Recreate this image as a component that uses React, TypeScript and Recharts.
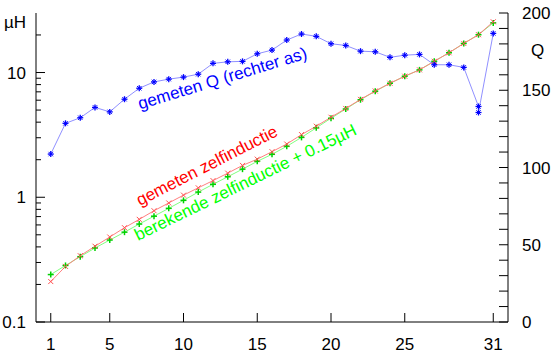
import React from "react";
import { ComposedChart, Line, XAxis, YAxis } from "recharts";

const xValues = [1, 2, 3, 4, 5, 6, 7, 8, 9, 10, 11, 12, 13, 14, 15, 16, 17, 18, 19, 20, 21, 22, 23, 24, 25, 26, 27, 28, 29, 30, 31];

const measuredL = [0.211, 0.279, 0.34, 0.405, 0.48, 0.57, 0.665, 0.78, 0.9, 1.04, 1.19, 1.36, 1.56, 1.8, 2.02, 2.32, 2.67, 3.18, 3.71, 4.38, 5.15, 6.09, 7.11, 8.2, 9.34, 10.5, 12.3, 14.4, 17.1, 20.1, 25.5];

const calculatedL = [0.24, 0.284, 0.334, 0.392, 0.454, 0.525, 0.61, 0.705, 0.815, 0.945, 1.1, 1.27, 1.46, 1.68, 1.94, 2.21, 2.56, 3.02, 3.6, 4.3, 5.1, 6.05, 7.08, 8.2, 9.34, 10.5, 12.3, 14.4, 17.1, 20.1, 25.0];

const qX = [1, 2, 3, 4, 5, 6, 7, 8, 9, 10, 11, 12, 13, 14, 15, 16, 17, 18, 19, 20, 21, 22, 23, 24, 25, 26, 27, 28, 29, 30, 30, 31];
const measuredQ = [108.7, 128.6, 132.2, 138.9, 136, 144.2, 151.3, 155.4, 157.2, 158.5, 160.4, 167.4, 168.4, 168.7, 173.6, 176, 182.5, 186.4, 184.9, 180.1, 179, 175.3, 174.9, 171.3, 172.7, 173.2, 166.5, 166.5, 164.8, 139.5, 135.6, 186.8];

const xTicks = [1, 5, 10, 15, 20, 25, 31];
const leftTicks = [0.1, 0.2, 0.3, 0.4, 0.5, 0.6, 0.7, 0.8, 0.9, 1, 2, 3, 4, 5, 6, 7, 8, 9, 10, 20];
const leftLabels = [0.1, 1, 10];
const rightTicks = [0, 10, 20, 30, 40, 50, 60, 70, 80, 90, 100, 110, 120, 130, 140, 150, 160, 170, 180, 190, 200];
const rightLabels = [0, 50, 100, 150, 200];

const redData = xValues.map((x, i) => ({ x, v: measuredL[i] }));
const greenData = xValues.map((x, i) => ({ x, v: calculatedL[i] }));
const blueData = qX.map((x, i) => ({ x, v: measuredQ[i] }));

const FONT = "'Liberation Sans', Arial, Helvetica, sans-serif";
const FS = 17;

const BottomTick = (props: any) => {
  const { x, y, payload } = props;
  return (
    <g>
      <line x1={x} x2={x} y1={y} y2={y - 9} stroke="#000" strokeWidth={1} />
      <text x={x} y={y + 28} textAnchor="middle" fontFamily={FONT} fontSize={FS} fill="#000">
        {payload.value}
      </text>
    </g>
  );
};

const TopTick = (props: any) => {
  const { x, y } = props;
  return <line x1={x} x2={x} y1={y} y2={y + 9} stroke="#000" strokeWidth={1} />;
};

const LeftTick = (props: any) => {
  const { x, y, payload } = props;
  const major = leftLabels.includes(payload.value);
  return (
    <g>
      <line x1={x} x2={x + (major ? 9 : 5)} y1={y} y2={y} stroke="#000" strokeWidth={1} />
      {major && (
        <text x={x - 10} y={y + 6} textAnchor="end" fontFamily={FONT} fontSize={FS} fill="#000">
          {payload.value}
        </text>
      )}
    </g>
  );
};

const RightTick = (props: any) => {
  const { x, y, payload } = props;
  const major = rightLabels.includes(payload.value);
  return (
    <g>
      <line x1={x} x2={x - 9} y1={y} y2={y} stroke="#000" strokeWidth={1} />
      {major && (
        <text x={x + 14} y={y + 6} textAnchor="start" fontFamily={FONT} fontSize={FS} fill="#000">
          {payload.value}
        </text>
      )}
    </g>
  );
};

const CrossDot = (props: any) => {
  const { cx, cy, index } = props;
  const r = 2.5;
  return (
    <g key={`r${index}`}>
      <line x1={cx - r} y1={cy - r} x2={cx + r} y2={cy + r} stroke="#ff5050" strokeWidth={1} />
      <line x1={cx - r} y1={cy + r} x2={cx + r} y2={cy - r} stroke="#ff5050" strokeWidth={1} />
    </g>
  );
};

const PlusDot = (props: any) => {
  const { cx, cy, index } = props;
  const r = 3;
  return (
    <g key={`g${index}`}>
      <line x1={cx - r} y1={cy} x2={cx + r} y2={cy} stroke="#00d000" strokeWidth={1.5} />
      <line x1={cx} y1={cy - r} x2={cx} y2={cy + r} stroke="#00d000" strokeWidth={1.5} />
    </g>
  );
};

const StarDot = (props: any) => {
  const { cx, cy, index } = props;
  const r = 3;
  const d = 2.2;
  return (
    <g key={`b${index}`}>
      <line x1={cx - r} y1={cy} x2={cx + r} y2={cy} stroke="#0000ff" strokeWidth={1.3} />
      <line x1={cx} y1={cy - r} x2={cx} y2={cy + r} stroke="#0000ff" strokeWidth={1.3} />
      <line x1={cx - d} y1={cy - d} x2={cx + d} y2={cy + d} stroke="#0000ff" strokeWidth={1} />
      <line x1={cx - d} y1={cy + d} x2={cx + d} y2={cy - d} stroke="#0000ff" strokeWidth={1} />
    </g>
  );
};

export default function App() {
  return (
    <div style={{ position: "absolute", left: 0, top: 0, width: 554, height: 354, background: "#fff" }}>
      <ComposedChart width={554} height={354} margin={{ top: 13, right: 0, bottom: 0, left: 0 }}>
        <XAxis
          xAxisId="b"
          type="number"
          dataKey="x"
          domain={[0, 32]}
          ticks={xTicks}
          interval={0}
          height={32}
          tickSize={0}
          tickMargin={0}
          tickLine={false}
          tick={<BottomTick />}
          axisLine={{ stroke: "#000", strokeWidth: 1 }}
          allowDataOverflow
        />
        <XAxis
          xAxisId="t"
          orientation="top"
          type="number"
          domain={[0, 32]}
          ticks={xTicks}
          interval={0}
          height={0}
          tickSize={0}
          tickMargin={0}
          tickLine={false}
          tick={<TopTick />}
          axisLine={{ stroke: "#000", strokeWidth: 1 }}
          allowDataOverflow
        />
        <YAxis
          yAxisId="L"
          orientation="left"
          scale="log"
          type="number"
          domain={[0.1, 30]}
          ticks={leftTicks}
          interval={0}
          width={36}
          tickSize={0}
          tickMargin={0}
          tickLine={false}
          tick={<LeftTick />}
          axisLine={{ stroke: "#000", strokeWidth: 1 }}
          allowDataOverflow
        />
        <YAxis
          yAxisId="R"
          orientation="right"
          type="number"
          domain={[0, 200]}
          ticks={rightTicks}
          interval={0}
          width={46}
          tickSize={0}
          tickMargin={0}
          tickLine={false}
          tick={<RightTick />}
          axisLine={{ stroke: "#000", strokeWidth: 1 }}
          allowDataOverflow
        />
        <Line
          xAxisId="b"
          yAxisId="L"
          data={greenData}
          dataKey="v"
          type="linear"
          stroke="#80ff80"
          strokeWidth={1}
          dot={PlusDot}
          isAnimationActive={false}
        />
        <Line
          xAxisId="b"
          yAxisId="L"
          data={redData}
          dataKey="v"
          type="linear"
          stroke="#ff8080"
          strokeWidth={1}
          dot={CrossDot}
          isAnimationActive={false}
        />
        <Line
          xAxisId="b"
          yAxisId="R"
          data={blueData}
          dataKey="v"
          type="linear"
          stroke="#9090ff"
          strokeWidth={1}
          dot={StarDot}
          isAnimationActive={false}
        />
      </ComposedChart>
      <svg width={554} height={354} style={{ position: "absolute", left: 0, top: 0, pointerEvents: "none" }}>
        <text x={4} y={28} fontFamily={FONT} fontSize={FS} fill="#000">µH</text>
        <text x={531} y={56} fontFamily={FONT} fontSize={FS} fill="#000">Q</text>
        <text x={140} y={109.5} transform="rotate(-17 140 109.5)" fontFamily={FONT} fontSize={FS} fill="#0000ff">
          gemeten Q (rechter as)
        </text>
        <text x={140} y={206} transform="rotate(-27 140 206)" fontFamily={FONT} fontSize={FS} fill="#ff0000">
          gemeten zelfinductie
        </text>
        <text x={138} y={241} transform="rotate(-26 138 241)" fontFamily={FONT} fontSize={FS} fill="#00ff00">
          berekende zelfinductie + 0.15µH
        </text>
      </svg>
    </div>
  );
}
